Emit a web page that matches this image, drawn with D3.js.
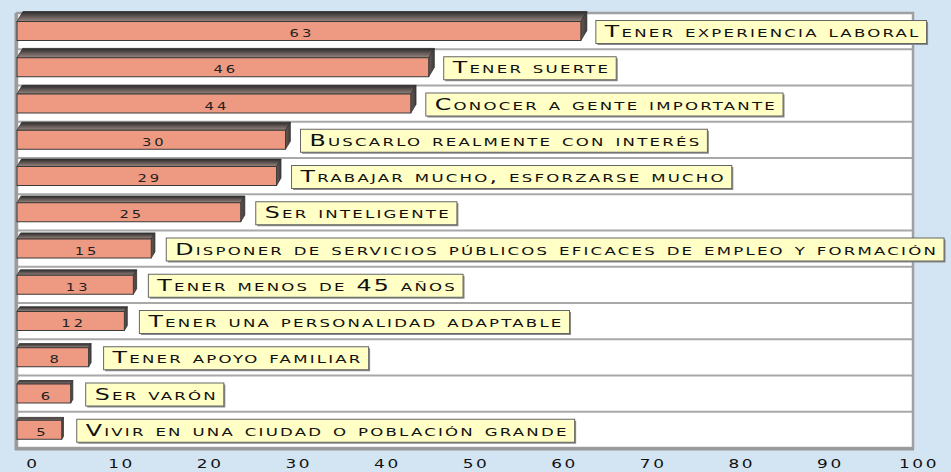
<!DOCTYPE html>
<html><head><meta charset="utf-8">
<script src="https://cdn.jsdelivr.net/npm/d3@7"></script>
<style>
html,body{margin:0;padding:0;background:#D3E5F3;}
svg{display:block;}
.sc{font-family:"DejaVu Sans",sans-serif;font-variant:small-caps;}
</style></head><body>
<svg id="chart" width="951" height="472"></svg>
<script>
const categories = [
  "Tener experiencia laboral",
  "Tener suerte",
  "Conocer a gente importante",
  "Buscarlo realmente con interés",
  "Trabajar mucho, esforzarse mucho",
  "Ser inteligente",
  "Disponer de servicios públicos eficaces de empleo y formación",
  "Tener menos de 45 años",
  "Tener una personalidad adaptable",
  "Tener apoyo familiar",
  "Ser varón",
  "Vivir en una ciudad o población grande"
];
const values = [63, 46, 44, 30, 29, 25, 15, 13, 12, 8, 6, 5];
const tickValues = [0, 10, 20, 30, 40, 50, 60, 70, 80, 90, 100];

const svg = d3.select("#chart");
const plot = {left: 17, right: 913, top: 13, bottom: 448};
const stretch = 1.53;

const x = d3.scaleLinear().domain([0, 100]).range([plot.left, 912]);
const xAxisScale = d3.scaleLinear().domain([0, 100]).range([32, 918]);
const y = d3.scaleBand().domain(categories).range([plot.top, plot.bottom]).paddingInner(0).paddingOuter(0);

svg.append("rect").attr("x", plot.left).attr("y", plot.top)
  .attr("width", plot.right - plot.left).attr("height", plot.bottom - plot.top)
  .attr("fill", "#fff");
svg.selectAll("line.sep").data(categories.slice(1)).enter().append("line")
  .attr("class", "sep")
  .attr("x1", plot.left).attr("x2", plot.right)
  .attr("y1", d => y(d)).attr("y2", d => y(d))
  .attr("stroke", "#A8A8A8").attr("stroke-width", 2);
svg.append("rect").attr("x", plot.left).attr("y", plot.top)
  .attr("width", plot.right - plot.left).attr("height", plot.bottom - plot.top)
  .attr("fill", "none").attr("stroke", "#A0A0A0").attr("stroke-width", 2.5);
svg.append("line").attr("x1", plot.left - 1).attr("x2", plot.left - 1)
  .attr("y1", plot.top).attr("y2", plot.bottom + 2)
  .attr("stroke", "#9A9A9A").attr("stroke-width", 3);
svg.append("line").attr("x1", plot.left - 2).attr("x2", plot.right + 1)
  .attr("y1", plot.bottom + 1).attr("y2", plot.bottom + 1)
  .attr("stroke", "#9A9A9A").attr("stroke-width", 3);

const defs = svg.append("defs");
const gTop = defs.append("linearGradient").attr("id", "gtop").attr("x1", 0).attr("y1", 0).attr("x2", 0).attr("y2", 1);
gTop.append("stop").attr("offset", "0%").attr("stop-color", "#2a2a2a");
gTop.append("stop").attr("offset", "100%").attr("stop-color", "#9a8680");
const gSide = defs.append("linearGradient").attr("id", "gside").attr("x1", 0).attr("y1", 0).attr("x2", 1).attr("y2", 0);
gSide.append("stop").attr("offset", "0%").attr("stop-color", "#6a5a55");
gSide.append("stop").attr("offset", "100%").attr("stop-color", "#3a3a3a");

const rows = categories.map((c, i) => ({c, v: values[i], i}));
const g = svg.append("g");
rows.forEach(r => {
  const bt = y(r.c);
  const dy = 10 - r.i * 0.65;
  const dx = dy * 0.6;
  const x0 = x(0), x1 = x(r.v);
  const fy0 = bt + 8.5, fy1 = fy0 + 19;
  const gg = g.append("g");
  gg.append("path")
    .attr("d", `M${x0},${fy0} L${x0 + dx},${fy0 - dy} L${x1 + dx},${fy0 - dy} L${x1},${fy0} Z`)
    .attr("fill", "url(#gtop)").attr("stroke", "#333").attr("stroke-width", 0.8);
  gg.append("path")
    .attr("d", `M${x1},${fy0} L${x1 + dx},${fy0 - dy} L${x1 + dx},${fy1 - dy} L${x1},${fy1} Z`)
    .attr("fill", "url(#gside)").attr("stroke", "#333").attr("stroke-width", 0.8);
  gg.append("rect").attr("x", x0).attr("y", fy0).attr("width", x1 - x0).attr("height", fy1 - fy0)
    .attr("fill", "#EE9A82").attr("stroke", "#3a3a3a").attr("stroke-width", 1);
  gg.append("text").attr("class", "sc")
    .attr("transform", `translate(${(x0 + x1) / 2 + 3},${fy0 + 15.5}) scale(1.5,1)`)
    .attr("text-anchor", "middle")
    .attr("font-size", 9.8).attr("letter-spacing", 2)
    .attr("fill", "#222").text(r.v);
  const bx = x1 + 15, by = bt + 7.5;
  const shadow = gg.append("rect");
  const box = gg.append("rect");
  const t = gg.append("text").attr("class", "sc")
    .attr("transform", `translate(${bx + 9},${by + 16.5}) scale(${stretch},1)`)
    .attr("font-size", 15.5).attr("letter-spacing", 1.45)
    .attr("fill", "#111").text(r.c);
  const tw = t.node().getComputedTextLength() * stretch;
  const bw = tw + 15;
  shadow.attr("x", bx + 1.5).attr("y", by + 1.5).attr("width", bw).attr("height", 23)
    .attr("fill", "#8a8a8a");
  box.attr("x", bx).attr("y", by).attr("width", bw).attr("height", 23)
    .attr("fill", "#FFFFC6").attr("stroke", "#666").attr("stroke-width", 1);
});

svg.selectAll("text.tick").data(tickValues).enter().append("text")
  .attr("class", "tick sc")
  .attr("transform", d => `translate(${xAxisScale(d) + 1},467.5) scale(1.3,1)`)
  .attr("text-anchor", "middle")
  .attr("font-size", 13).attr("letter-spacing", 2)
  .attr("fill", "#111").text(d => d);
</script>
</body></html>
